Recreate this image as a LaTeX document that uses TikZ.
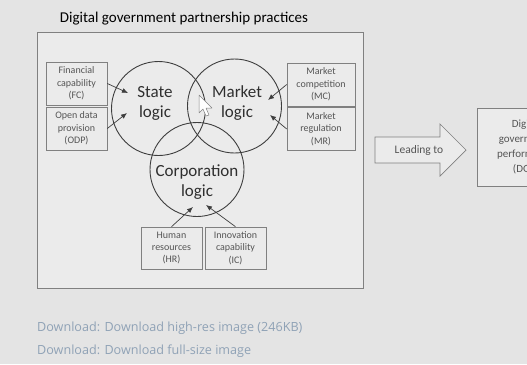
\documentclass[tikz,border=0pt]{standalone}
\usepackage{fontspec}
\setmainfont{Carlito}
\newfontfamily\dlfont{Open Sans}
\usetikzlibrary{arrows.meta}
\definecolor{bgc}{HTML}{E4E4E4}
\definecolor{inner}{HTML}{EBEBEB}
\definecolor{linec}{HTML}{3E3E3E}
\definecolor{boxc}{HTML}{808080}
\definecolor{txtc}{HTML}{2F2F2F}
\definecolor{boxtxt}{HTML}{555555}
\definecolor{dlc}{HTML}{8FA2B6}
\begin{document}
\begin{tikzpicture}[x=1pt,y=-1pt,
  logic/.style={circle,draw=linec,line width=0.9pt,inner sep=0pt,minimum size=94pt},
  logictxt/.style={text=txtc,font=\fontsize{17}{20}\selectfont,align=center,inner sep=0pt},
  factor/.style={draw=boxc,line width=0.6pt,text=boxtxt,font=\fontsize{10}{12.3}\selectfont,align=center,inner sep=0pt,minimum width=61pt,minimum height=43pt},
  conn/.style={draw=linec,line width=0.7pt,-{Latex[length=6pt,width=5pt]}},
  dl/.style={anchor=west,text=dlc,font=\dlfont\fontsize{12.6}{14}\selectfont,inner sep=0pt}]
\useasboundingbox (0,0) rectangle (527,364);
\clip (0,0) rectangle (527,364);
\fill[bgc] (0,0) rectangle (527,364);
% frame
\node[draw=boxc,fill=inner,line width=0.6pt,minimum width=326pt,minimum height=256pt,inner sep=0pt] (frame) at (200,160) {};
\node[text=black,font=\fontsize{15}{18}\selectfont,inner sep=0pt] (title) at (184,19) {Digital government partnership practices};
% circles
\node[logic] (state) at (158.5,108.5) {};
\node[logic] (market) at (234.5,106) {};
\node[logic] (corp) at (197,169.5) {};
\node[logictxt] (statet) at (155,103) {State\\logic};
\node[logictxt] (markett) at (237,103) {Market\\logic};
\node[logictxt] (corpt) at (197,182.5) {Corporation\\logic};
% factor boxes
\node[factor] (fc) at (76.5,83.5) {Financial\\capability\\(FC)};
\node[factor] (odp) at (76.5,128.5) {Open data\\provision\\(ODP)};
\node[factor,minimum width=68pt] (mc) at (321,84.5) {Market\\competition\\(MC)};
\node[factor,minimum width=68pt] (mr) at (321,129) {Market\\regulation\\(MR)};
\node[factor,minimum width=61pt,minimum height=42pt] (hr) at (171.5,248) {Human\\resources\\(HR)};
\node[factor,minimum width=61pt,minimum height=42pt] (ic) at (235.5,248) {Innovation\\capability\\(IC)};
% arrow targets
\coordinate (fcT) at (128,93);
\coordinate (odpT) at (127,113);
\coordinate (mcT) at (268,100);
\coordinate (mrT) at (270,115);
\coordinate (hrT) at (193,207);
\coordinate (icT) at (206,205);
\draw[conn] (fc.east) -- (fcT);
\draw[conn] (odp.east) -- (odpT);
\draw[conn] (mc.west) -- (mcT);
\draw[conn] (mr.west) -- (mrT);
\draw[conn] (hr.north) -- (hrT);
\draw[conn] (ic.north) -- (icT);
% cursor
\draw[fill=white,draw=gray,line width=0.5pt,line join=round] (199,95) -- (199,113) -- (203,109) -- (206,116) -- (209,115) -- (206,108) -- (212,108) -- cycle;
% leading arrow
\draw[draw=boxc,fill=inner,line width=0.7pt,line join=miter] (375,137) -- (440,137) -- (440,124) -- (466,150) -- (440,176) -- (440,163) -- (375,163) -- cycle;
\node[text=boxtxt,font=\fontsize{11.5}{13}\selectfont,inner sep=0pt] (lead) at (419,150) {Leading to};
% DGP box
\node[draw=boxc,fill=inner,line width=0.7pt,minimum width=98pt,minimum height=78pt,text=boxtxt,font=\fontsize{11}{15}\selectfont,align=center,inner sep=0pt] (dgp) at (526,147) {Digital\\government\\performance\\(DGP)};
% downloads
\node[dl] (dl1) at (37,328) {Download: Download high-res image (246KB)};
\node[dl] (dl2) at (37,351) {Download: Download full-size image};
\end{tikzpicture}
\end{document}
